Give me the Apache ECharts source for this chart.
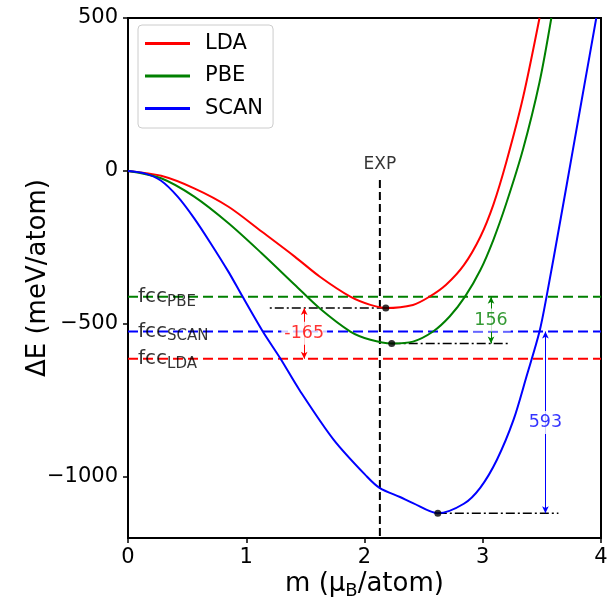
<!DOCTYPE html>
<html>
<head>
<meta charset="utf-8">
<script src="https://cdn.jsdelivr.net/npm/echarts@6/dist/echarts.min.js"></script>
<style>
html, body { margin: 0; padding: 0; background: #fff; }
#chart { width: 611px; height: 598px; }
</style>
</head>
<body>
<div id="chart"></div>
<script>
// energy curves, m in muB/atom, dE in meV/atom
var ldaM = [0, 0.28, 0.56, 0.85, 1.13, 1.41, 1.62, 1.88, 2.05, 2.18, 2.41, 2.55, 2.69, 2.84, 2.98, 3.09, 3.20, 3.34, 3.48];
var ldaE = [0, -16, -57, -117, -198, -280, -345, -411, -438, -448, -438, -411, -372, -308, -215, -110, 30, 239, 500];
var pbeM = [0, 0.28, 0.56, 0.85, 1.13, 1.41, 1.62, 1.88, 2.05, 2.23, 2.41, 2.58, 2.72, 2.85, 2.98, 3.09, 3.20, 3.34, 3.48, 3.58];
var pbeE = [0, -24, -84, -171, -269, -372, -449, -525, -552, -564, -558, -525, -476, -411, -324, -225, -105, 70, 290, 500];
var scanM = [0, 0.14, 0.28, 0.42, 0.56, 0.70, 0.85, 0.96, 1.14, 1.29, 1.45, 1.74, 2.02, 2.13, 2.30, 2.41, 2.62, 2.84, 2.98, 3.12, 3.26, 3.37, 3.48, 3.54, 3.66, 3.76, 3.86, 3.96];
var scanE = [0, -8, -32, -84, -155, -237, -330, -405, -525, -614, -716, -879, -999, -1037, -1066, -1086, -1119, -1088, -1035, -944, -814, -672, -525, -410, -154, 64, 282, 500];

// fcc reference levels (PBE, SCAN, LDA)
var fccNames = ['PBE', 'SCAN', 'LDA'];
var fccE = [-411, -525, -614];

// minima (LDA, PBE, SCAN) and end of the dash-dot guide
var minM = [2.18, 2.23, 2.62];
var minE = [-448, -564, -1119];
var guideEnd = [1.18, 3.23, 3.64];

// experimental moment
var expM = 2.13;
var expTop = -30;

// energy differences
var gapText = ['-165', '156', '593'];
var gapM = [1.49, 3.07, 3.53];
var gapFrom = [minE[0], fccE[0], fccE[1]];
var gapTo = [fccE[2], minE[1], minE[2]];

var yTicks = [-1000, -500, 0, 500];

var font = 'DejaVu Sans';
var red = '#ff0000', green = '#008000', blue = '#0000ff';
var curveColors = [red, green, blue];
var fccColors = [green, blue, red];

function zip(a, b) {
	return a.map(function (v, i) { return [v, b[i]]; });
}

var series = [];

[['LDA', ldaM, ldaE], ['PBE', pbeM, pbeE], ['SCAN', scanM, scanE]].forEach(function (c, i) {
	series.push({
		name: c[0], type: 'line', data: zip(c[1], c[2]),
		smooth: 0.3, symbol: 'none', z: 5,
		lineStyle: { color: curveColors[i], width: 2 }, itemStyle: { color: curveColors[i] }
	});
});

fccE.forEach(function (v, i) {
	series.push({
		type: 'line', data: [[0, v], [4, v]], symbol: 'none', z: 3,
		lineStyle: { color: fccColors[i], width: 2, type: [10, 5] }
	});
});

series.push({
	type: 'line', data: [[expM, expTop], [expM, -1200]], symbol: 'none', z: 3,
	lineStyle: { color: '#000', width: 2, type: [8, 4] }
});

minM.forEach(function (m, i) {
	series.push({
		type: 'line', data: [[m, minE[i]], [guideEnd[i], minE[i]]], symbol: 'none', z: 3,
		lineStyle: { color: '#000', width: 1.4, type: [9, 3, 2, 3] }
	});
});

// dots at minima plus the double arrows
series.push({
	type: 'scatter', data: zip(minM, minE), symbolSize: 7, z: 6,
	itemStyle: { color: '#000' },
	markLine: {
		silent: true, symbol: ['arrow', 'arrow'], symbolSize: [5, 7],
		label: { show: false },
		data: gapM.map(function (m, i) {
			return [
				{ coord: [m, gapFrom[i]], lineStyle: { color: curveColors[i], width: 1, type: 'solid' } },
				{ coord: [m, gapTo[i]] }
			];
		})
	}
});

// difference labels
series.push({
	type: 'scatter', symbolSize: 0, z: 8,
	data: gapM.map(function (m, i) {
		return {
			value: [m, (gapFrom[i] + gapTo[i]) / 2], name: gapText[i],
			label: { color: curveColors[i] }
		};
	}),
	label: {
		show: true, position: 'inside', formatter: '{b}',
		fontFamily: font, fontSize: 17.5, backgroundColor: '#fff', padding: [3, 3, 2, 3]
	}
});

// fcc labels
series.push({
	type: 'scatter', symbolSize: 0, z: 7,
	data: fccE.map(function (v, i) {
		return { value: [0.085, v], name: fccNames[i] };
	}),
	label: {
		show: true, position: 'right', distance: 0, offset: [0, 5],
		formatter: function (p) { return '{a|fcc}{b|' + p.name + '}'; },
		rich: {
			a: { fontFamily: font, fontSize: 20, lineHeight: 20, verticalAlign: 'top', color: '#000' },
			b: { fontFamily: font, fontSize: 15, lineHeight: 30, color: '#000' }
		}
	}
});

// EXP label
series.push({
	type: 'scatter', symbolSize: 0, z: 7,
	data: [{ value: [expM, 20], name: 'EXP' }],
	label: { show: true, position: 'inside', formatter: '{b}', fontFamily: font, fontSize: 17, color: '#000' }
});

var chart = echarts.init(document.getElementById('chart'));
chart.setOption({
	animation: false,
	grid: {
		left: 128, right: 10, top: 18, bottom: 60, outerBoundsMode: 'none',
		show: true, borderColor: '#000', borderWidth: 2, backgroundColor: 'transparent'
	},
	legend: {
		data: ['LDA', 'PBE', 'SCAN'], orient: 'vertical', left: 138, top: 25,
		icon: 'rect', itemWidth: 45, itemHeight: 3, itemGap: 11.5,
		padding: [8, 10, 9, 7], borderColor: '#cccccc', borderWidth: 1, borderRadius: 4,
		backgroundColor: 'rgba(255,255,255,0.8)',
		textStyle: { fontFamily: font, fontSize: 21, lineHeight: 20, color: '#000', padding: [0, 0, 0, 10] }
	},
	xAxis: {
		type: 'value', min: 0, max: 4, interval: 1,
		name: 'm (μ{s|B}/atom)', nameLocation: 'middle', nameGap: 31, nameMoveOverlap: false,
		nameTextStyle: { fontFamily: font, fontSize: 26, color: '#000', rich: { s: { fontFamily: font, fontSize: 18, padding: [13, 0, 0, 0], color: '#000' } } },
		axisLine: { onZero: false, lineStyle: { color: '#000', width: 2 } },
		axisTick: { length: 5, lineStyle: { color: '#000', width: 1.5 } },
		axisLabel: { fontFamily: font, fontSize: 21, color: '#000', margin: 9 },
		splitLine: { show: false }
	},
	yAxis: {
		type: 'value', min: -1200, max: 500,
		name: 'ΔE (meV/atom)', nameLocation: 'middle', nameGap: 77, nameRotate: 90, nameMoveOverlap: false,
		nameTextStyle: { fontFamily: font, fontSize: 26, color: '#000' },
		axisLine: { onZero: false, lineStyle: { color: '#000', width: 2 } },
		axisTick: { length: 5, customValues: yTicks, lineStyle: { color: '#000', width: 1.5 } },
		axisLabel: {
			fontFamily: font, fontSize: 21, color: '#000', margin: 10, customValues: yTicks,
			formatter: function (v) { return String(v).replace('-', '\u2212'); }
		},
		splitLine: { show: false }
	},
	series: series
});
</script>
</body>
</html>
